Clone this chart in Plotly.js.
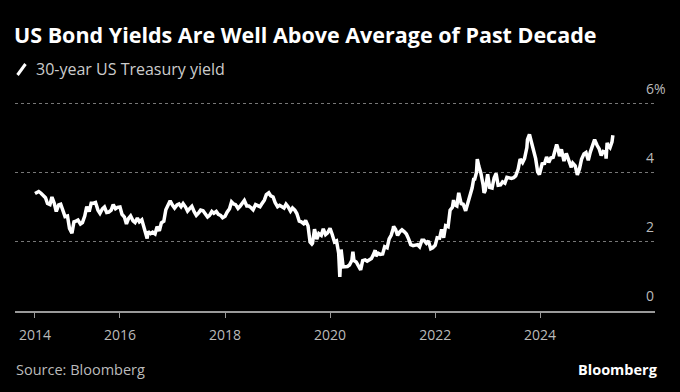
<!DOCTYPE html>
<html>
<head>
<meta charset="utf-8">
<script src="https://cdn.plot.ly/plotly-3.0.1.min.js"></script>
<style>html,body{margin:0;padding:0;background:#000;}#chart{width:680px;height:392px;}</style>
</head>
<body>
<div id="chart"></div>
<script>
// 30-year US Treasury yield (%), approx. semi-monthly readings
const dates = [
'2014-05-20','2014-06-01','2014-06-15','2014-07-01','2014-07-15','2014-08-01','2014-08-15','2014-09-01','2014-09-15','2014-10-01','2014-10-15','2014-11-01','2014-11-15','2014-12-01','2014-12-15',
'2015-01-01','2015-01-15','2015-02-01','2015-02-15','2015-03-01','2015-03-15','2015-04-01','2015-04-15','2015-05-01','2015-05-15','2015-06-01','2015-06-15','2015-07-01','2015-07-15','2015-08-01','2015-08-15','2015-09-01','2015-09-15','2015-10-01','2015-10-15','2015-11-01','2015-11-15','2015-12-01','2015-12-15',
'2016-01-01','2016-01-15','2016-02-01','2016-02-15','2016-03-01','2016-03-15','2016-04-01','2016-04-15','2016-05-01','2016-05-15','2016-06-01','2016-06-15','2016-07-01','2016-07-08','2016-07-15','2016-08-01','2016-08-15','2016-09-01','2016-09-15','2016-10-01','2016-10-15','2016-11-01','2016-11-15','2016-12-01','2016-12-15',
'2017-01-01','2017-01-15','2017-02-01','2017-02-15','2017-03-01','2017-03-15','2017-04-01','2017-04-15','2017-05-01','2017-05-15','2017-06-01','2017-06-15','2017-07-01','2017-07-15','2017-08-01','2017-08-15','2017-09-01','2017-09-15','2017-10-01','2017-10-15','2017-11-01','2017-11-15','2017-12-01','2017-12-15',
'2018-01-01','2018-01-15','2018-02-01','2018-02-15','2018-03-01','2018-03-15','2018-04-01','2018-04-15','2018-05-01','2018-05-15','2018-06-01','2018-06-15','2018-07-01','2018-07-15','2018-08-01','2018-08-15','2018-09-01','2018-09-15','2018-10-01','2018-10-15','2018-11-01','2018-11-15','2018-12-01','2018-12-15',
'2019-01-01','2019-01-15','2019-02-01','2019-02-15','2019-03-01','2019-03-15','2019-04-01','2019-04-15','2019-05-01','2019-05-15','2019-06-01','2019-06-15','2019-07-01','2019-07-15','2019-08-01','2019-08-15','2019-08-28','2019-09-01','2019-09-15','2019-10-01','2019-10-15','2019-11-01','2019-11-15','2019-12-01','2019-12-15',
'2020-01-01','2020-01-15','2020-02-01','2020-02-15','2020-03-01','2020-03-09','2020-03-18','2020-04-01','2020-04-15','2020-05-01','2020-05-15','2020-06-01','2020-06-08','2020-06-15','2020-07-01','2020-07-15','2020-08-01','2020-08-15','2020-09-01','2020-09-15','2020-10-01','2020-10-15','2020-11-01','2020-11-10','2020-11-15','2020-12-01','2020-12-15',
'2021-01-01','2021-01-15','2021-02-01','2021-02-15','2021-03-01','2021-03-15','2021-03-18','2021-04-01','2021-04-15','2021-05-01','2021-05-15','2021-06-01','2021-06-15','2021-07-01','2021-07-15','2021-08-01','2021-08-15','2021-09-01','2021-09-15','2021-10-01','2021-10-15','2021-11-01','2021-11-15','2021-12-01','2021-12-15',
'2022-01-01','2022-01-15','2022-02-01','2022-02-15','2022-03-01','2022-03-15','2022-04-01','2022-04-15','2022-05-01','2022-05-09','2022-05-15','2022-06-01','2022-06-14','2022-07-01','2022-07-15','2022-08-01','2022-08-15','2022-09-01','2022-09-15','2022-09-27','2022-10-01','2022-10-15','2022-10-21','2022-11-01','2022-11-15','2022-12-01','2022-12-07','2022-12-15',
'2023-01-01','2023-01-15','2023-02-01','2023-02-15','2023-03-01','2023-03-15','2023-04-01','2023-04-15','2023-05-01','2023-05-15','2023-06-01','2023-06-15','2023-07-01','2023-07-15','2023-08-01','2023-08-15','2023-09-01','2023-09-15','2023-10-01','2023-10-05','2023-10-19','2023-11-01','2023-11-15','2023-12-01','2023-12-15','2023-12-27',
'2024-01-01','2024-01-15','2024-02-01','2024-02-15','2024-03-01','2024-03-15','2024-04-01','2024-04-15','2024-04-25','2024-05-01','2024-05-15','2024-05-28','2024-06-15','2024-07-01','2024-07-15','2024-08-01','2024-08-05','2024-08-15','2024-09-01','2024-09-16','2024-10-01','2024-10-15','2024-11-01','2024-11-15','2024-12-01','2024-12-15',
'2025-01-01','2025-01-14','2025-02-01','2025-02-15','2025-03-01','2025-03-15','2025-04-01','2025-04-04','2025-04-11','2025-04-15','2025-05-01','2025-05-15','2025-05-21'
];
const yields = [
3.40,3.44,3.46,3.41,3.34,3.28,3.11,3.08,3.30,3.12,2.88,3.07,3.09,2.89,2.73,
2.75,2.39,2.25,2.58,2.60,2.63,2.52,2.56,2.75,3.02,2.88,3.12,3.12,3.14,2.92,2.83,2.96,3.01,2.85,2.86,2.92,3.08,2.96,3.00,
3.01,2.80,2.72,2.52,2.68,2.75,2.61,2.56,2.69,2.58,2.64,2.45,2.22,2.10,2.30,2.24,2.28,2.23,2.44,2.32,2.55,2.60,2.93,3.07,3.19,
3.06,2.98,3.07,3.10,3.02,3.11,3.01,2.89,2.97,3.03,2.87,2.77,2.84,2.92,2.90,2.82,2.72,2.77,2.88,2.83,2.88,2.80,2.77,2.70,
2.74,2.86,2.96,3.16,3.10,3.08,2.97,3.03,3.11,3.20,3.04,3.04,2.99,2.93,3.08,3.04,3.02,3.11,3.21,3.37,3.42,3.33,3.30,3.14,
3.02,3.06,3.03,2.98,3.09,3.02,2.89,2.98,2.92,2.82,2.60,2.58,2.53,2.62,2.46,2.00,1.94,1.96,2.37,2.08,2.24,2.19,2.38,2.21,2.26,
2.39,2.23,2.00,2.03,1.67,0.99,1.78,1.28,1.29,1.29,1.33,1.47,1.72,1.46,1.42,1.31,1.19,1.46,1.48,1.44,1.47,1.52,1.66,1.76,1.59,1.67,1.64,
1.65,1.86,1.83,2.09,2.19,2.38,2.45,2.36,2.19,2.30,2.35,2.29,2.23,2.08,1.92,1.89,1.91,1.92,1.86,2.05,2.05,1.96,2.03,1.80,1.83,
1.90,2.12,2.11,2.36,2.12,2.47,2.44,2.92,3.00,3.21,3.08,3.04,3.42,3.11,3.09,2.90,3.11,3.33,3.56,3.85,3.78,4.00,4.40,4.19,3.99,3.64,3.42,3.48,
3.96,3.58,3.56,3.85,3.98,3.64,3.65,3.74,3.70,3.87,3.84,3.84,3.86,3.91,4.10,4.40,4.30,4.42,4.73,4.96,5.11,4.90,4.58,4.41,4.03,3.95,
4.03,4.26,4.27,4.46,4.30,4.43,4.45,4.71,4.82,4.75,4.48,4.68,4.34,4.56,4.40,4.24,4.16,4.28,4.20,3.94,4.12,4.39,4.55,4.59,4.36,4.60,
4.78,4.96,4.79,4.69,4.50,4.62,4.59,4.41,4.87,4.80,4.73,4.90,5.09
];
const xTickVals = ['2014-05-20','2016-01-01','2018-01-01','2020-01-01','2022-01-01','2024-01-01'];
const xTickText = ['2014','2016','2018','2020','2022','2024'];
const yTickVals = [0,2,4,6];
const yTickText = ['0','2','4','6%'];

const FONT = '"Open Sans", Roboto, sans-serif';
const W = 680, H = 392, L = 15, R = 25, T = 102, B = 81;
const pw = W - L - R, ph = H - T - B;
const px = v => (v - L) / pw;
const py = v => (H - B - v) / ph;

const trace = {
  x: dates, y: yields, type: 'scatter', mode: 'lines',
  line: {color: '#ffffff', width: 3.5, shape: 'linear'},
  hoverinfo: 'skip', showlegend: false
};

const layout = {
  width: W, height: H,
  margin: {l: L, r: R, t: T, b: B, pad: 0},
  paper_bgcolor: '#000000', plot_bgcolor: '#000000',
  font: {family: FONT, color: '#bbbbbb', size: 14},
  title: {
    text: '<b>US Bond Yields Are Well Above Average of Past Decade</b>',
    font: {family: FONT, size: 21.5, color: '#ffffff'},
    x: 14 / W, xanchor: 'left', xref: 'container',
    y: 1 - 35 / H, yanchor: 'middle', yref: 'container'
  },
  xaxis: {
    type: 'date', range: ['2014-01-01', '2026-03-10'],
    tickvals: xTickVals, ticktext: xTickText,
    showgrid: false, zeroline: false,
    showline: true, linecolor: '#999999', linewidth: 2,
    ticks: 'outside', ticklen: 5, tickwidth: 1, tickcolor: '#999999',
    ticklabelstandoff: 5,
    tickfont: {family: FONT, size: 14, color: '#bbbbbb'},
    fixedrange: true
  },
  yaxis: {
    side: 'right', range: [0, 6.05],
    tickvals: yTickVals, ticktext: yTickText,
    showgrid: true, gridcolor: '#777777', gridwidth: 1, griddash: 'dot',
    zeroline: false, showline: false, ticks: '',
    ticklabelshift: -15, ticklabelstandoff: -10,
    tickfont: {family: FONT, size: 14, color: '#bbbbbb'},
    fixedrange: true
  },
  shapes: [
    {type: 'line', xref: 'paper', yref: 'paper',
     x0: px(17.5), y0: py(75), x1: px(25.5), y1: py(64),
     line: {color: '#ffffff', width: 3}}
  ],
  annotations: [
    {text: '30-year US Treasury yield', xref: 'paper', yref: 'paper',
     x: px(34), y: py(69), xanchor: 'left', yanchor: 'middle', showarrow: false,
     font: {family: FONT, size: 16, color: '#cccccc'}},
    {text: 'Source: Bloomberg', xref: 'paper', yref: 'paper',
     x: px(14), y: py(369), xanchor: 'left', yanchor: 'middle', showarrow: false,
     font: {family: FONT, size: 14.5, color: '#bbbbbb'}},
    {text: '<b>Bloomberg</b>', xref: 'paper', yref: 'paper',
     x: px(660), y: py(369), xanchor: 'right', yanchor: 'middle', showarrow: false,
     font: {family: FONT, size: 14.5, color: '#ffffff'}}
  ]
};

Plotly.newPlot('chart', [trace], layout, {displayModeBar: false, staticPlot: true});
</script>
</body>
</html>
